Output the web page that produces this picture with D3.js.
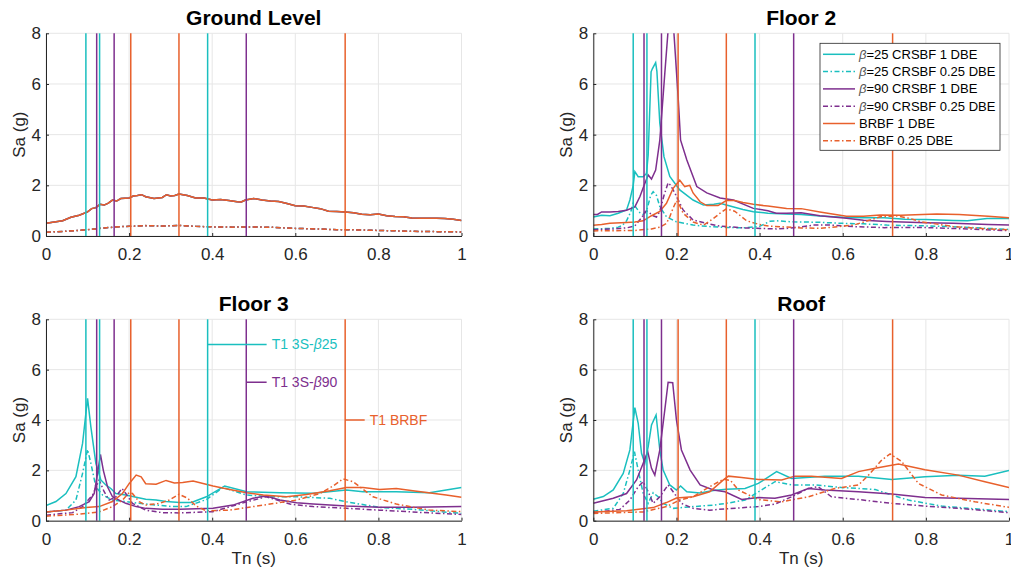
<!DOCTYPE html>
<html>
<head>
<meta charset="utf-8">
<script src="https://cdn.jsdelivr.net/npm/d3@7"></script>
<style>
  body { margin: 0; background: #fff; }
  svg { font-family: "Liberation Sans", Arial, Helvetica, sans-serif; }
  .tick text { font-size: 17px; fill: #262626; }
  .tick line, .domain { stroke: #262626; }
</style>
</head>
<body>
<div id="chart"></div>
<script>
// first-mode periods per system (vertical lines)
var b25Periods = [0.096, 0.129, 0.389];
var b90Periods = [0.122, 0.164, 0.482];
var brbfPeriods = [0.204, 0.32, 0.72];

var xTicks = [0, 0.2, 0.4, 0.6, 0.8, 1];
var yTicks = [0, 2, 4, 6, 8];

var panelTitles = ["Ground Level", "Floor 2", "Floor 3", "Roof"];
var legendLabels = ["=25 CRSBF 1 DBE", "=25 CRSBF 0.25 DBE", "=90 CRSBF 1 DBE",
    "=90 CRSBF 0.25 DBE", "BRBF 1 DBE", "BRBF 0.25 DBE"];
var annoLabels = [["T1 3S-", "\u03b2", "25"], ["T1 3S-", "\u03b2", "90"], ["T1 BRBF", "", ""]];

// ground level input (same for every system)
var groundDbe = [[0,0.5],[0.02,0.55],[0.04,0.6],[0.06,0.74],[0.08,0.82],[0.1,0.95],[0.11,1.08],[0.12,1.12],[0.13,1.25],[0.14,1.22],[0.15,1.3],[0.16,1.42],[0.17,1.38],[0.18,1.48],[0.2,1.5],[0.21,1.58],[0.22,1.6],[0.23,1.63],[0.24,1.55],[0.26,1.48],[0.28,1.52],[0.29,1.63],[0.3,1.58],[0.31,1.6],[0.32,1.66],[0.34,1.6],[0.36,1.5],[0.38,1.5],[0.4,1.42],[0.42,1.44],[0.44,1.4],[0.46,1.35],[0.47,1.34],[0.48,1.42],[0.5,1.48],[0.52,1.42],[0.54,1.38],[0.56,1.36],[0.58,1.28],[0.6,1.19],[0.62,1.18],[0.64,1.13],[0.66,1.08],[0.68,0.98],[0.7,0.97],[0.72,0.95],[0.74,0.92],[0.76,0.86],[0.78,0.84],[0.8,0.87],[0.82,0.8],[0.84,0.77],[0.86,0.76],[0.88,0.71],[0.9,0.7],[0.92,0.7],[0.94,0.7],[0.96,0.69],[0.98,0.66],[1,0.61]];
var groundQ = [[0,0.15],[0.04,0.18],[0.08,0.22],[0.1,0.25],[0.14,0.32],[0.18,0.37],[0.2,0.38],[0.24,0.41],[0.28,0.39],[0.32,0.42],[0.36,0.38],[0.4,0.36],[0.45,0.35],[0.5,0.36],[0.55,0.34],[0.6,0.3],[0.65,0.28],[0.7,0.25],[0.75,0.24],[0.8,0.22],[0.85,0.2],[0.9,0.18],[0.95,0.17],[1,0.16]];

// floor 2
var f2B25Dbe = [[0,0.75],[0.02,0.82],[0.04,0.8],[0.06,0.9],[0.08,1.03],[0.088,1.42],[0.096,2.0],[0.1,2.54],[0.108,2.34],[0.12,2.34],[0.128,2.47],[0.132,3.2],[0.139,6.48],[0.142,6.6],[0.15,6.84],[0.153,6.5],[0.16,4.45],[0.17,3.13],[0.184,2.35],[0.208,1.82],[0.24,1.42],[0.265,1.22],[0.29,1.25],[0.305,1.29],[0.32,1.22],[0.36,1.05],[0.385,0.96],[0.42,0.9],[0.465,0.87],[0.5,0.85],[0.545,0.79],[0.6,0.74],[0.65,0.72],[0.7,0.72],[0.75,0.66],[0.8,0.65],[0.866,0.61],[0.9,0.6],[0.947,0.69],[1,0.69]];
var f2B25Q = [[0,0.28],[0.04,0.3],[0.06,0.35],[0.07,0.42],[0.08,0.6],[0.09,0.95],[0.096,1.29],[0.104,1.1],[0.112,0.92],[0.12,0.84],[0.13,1.1],[0.138,1.6],[0.144,1.75],[0.152,1.6],[0.16,1.16],[0.176,0.76],[0.2,0.56],[0.24,0.43],[0.28,0.37],[0.32,0.34],[0.36,0.32],[0.4,0.38],[0.425,0.58],[0.44,0.6],[0.48,0.56],[0.545,0.54],[0.6,0.5],[0.65,0.48],[0.706,0.43],[0.8,0.4],[0.866,0.37],[0.95,0.3],[1,0.26]];
var f2B90Dbe = [[0,0.85],[0.01,0.85],[0.02,0.95],[0.04,0.95],[0.06,0.97],[0.08,1.02],[0.1,1.15],[0.112,1.55],[0.12,1.9],[0.132,2.41],[0.14,2.25],[0.15,2.6],[0.16,3.78],[0.172,6.42],[0.18,8.13],[0.186,9.2],[0.192,8.5],[0.204,5.5],[0.21,3.78],[0.225,3.0],[0.249,1.95],[0.273,1.7],[0.305,1.5],[0.337,1.42],[0.385,1.09],[0.42,1.0],[0.44,0.9],[0.465,0.9],[0.5,0.92],[0.545,0.8],[0.609,0.7],[0.65,0.62],[0.706,0.57],[0.8,0.52],[0.866,0.5],[0.95,0.45],[1,0.43]];
var f2B90Q = [[0,0.25],[0.05,0.28],[0.08,0.32],[0.1,0.4],[0.115,0.7],[0.128,1.0],[0.136,0.9],[0.144,0.8],[0.152,0.75],[0.16,0.97],[0.17,1.6],[0.18,2.1],[0.186,2.0],[0.196,1.7],[0.216,1.03],[0.24,0.63],[0.273,0.5],[0.3,0.4],[0.36,0.32],[0.44,0.28],[0.465,0.3],[0.5,0.36],[0.529,0.43],[0.569,0.43],[0.626,0.37],[0.7,0.33],[0.786,0.34],[0.9,0.28],[1,0.21]];
var f2BrbfDbe = [[0,0.42],[0.02,0.45],[0.04,0.5],[0.08,0.53],[0.1,0.55],[0.12,0.6],[0.14,0.8],[0.16,0.97],[0.176,1.29],[0.192,1.88],[0.208,2.2],[0.22,1.95],[0.232,2.0],[0.24,1.7],[0.257,1.35],[0.273,1.2],[0.3,1.2],[0.32,1.4],[0.34,1.4],[0.36,1.32],[0.385,1.25],[0.42,1.18],[0.465,1.09],[0.5,1.08],[0.545,0.95],[0.609,0.78],[0.65,0.78],[0.69,0.83],[0.74,0.82],[0.826,0.87],[0.88,0.85],[0.95,0.78],[1,0.72]];
var f2BrbfQ = [[0,0.2],[0.1,0.22],[0.14,0.28],[0.16,0.35],[0.176,0.5],[0.184,0.76],[0.192,1.1],[0.2,1.39],[0.208,1.2],[0.216,0.9],[0.24,0.55],[0.265,0.43],[0.289,0.69],[0.305,0.9],[0.32,1.07],[0.34,0.98],[0.369,0.6],[0.4,0.45],[0.425,0.39],[0.5,0.32],[0.545,0.3],[0.626,0.43],[0.66,0.6],[0.69,0.76],[0.73,0.79],[0.76,0.7],[0.786,0.57],[0.866,0.37],[0.95,0.28],[1,0.24]];

// floor 3
var f3B25Dbe = [[0,0.6],[0.024,0.76],[0.048,1.08],[0.072,1.75],[0.088,3.07],[0.1,4.86],[0.108,3.73],[0.12,2.28],[0.132,1.62],[0.144,1.42],[0.156,1.28],[0.168,1.08],[0.192,1.02],[0.217,0.93],[0.24,0.85],[0.265,0.82],[0.289,0.76],[0.322,0.72],[0.35,0.72],[0.386,0.95],[0.43,1.38],[0.483,1.15],[0.563,1.11],[0.643,1.09],[0.723,1.22],[0.763,1.15],[0.843,1.15],[0.923,1.11],[0.963,1.22],[1,1.32]];
var f3B25Q = [[0,0.35],[0.048,0.42],[0.072,0.82],[0.088,1.88],[0.1,2.83],[0.108,2.28],[0.12,1.35],[0.136,1.02],[0.16,0.82],[0.192,0.76],[0.224,0.69],[0.265,0.62],[0.305,0.56],[0.337,0.56],[0.386,0.84],[0.426,1.32],[0.483,1.02],[0.547,0.95],[0.603,0.95],[0.683,0.89],[0.723,0.75],[0.803,0.53],[0.883,0.45],[1,0.29]];
var f3B90Dbe = [[0,0.35],[0.048,0.42],[0.08,0.56],[0.104,0.76],[0.116,1.08],[0.124,1.88],[0.131,2.63],[0.138,2.0],[0.148,1.35],[0.16,0.95],[0.176,0.82],[0.192,0.69],[0.217,0.56],[0.24,0.49],[0.28,0.45],[0.322,0.45],[0.402,0.49],[0.45,0.62],[0.498,0.89],[0.53,0.98],[0.563,0.82],[0.603,0.71],[0.643,0.66],[0.723,0.58],[0.803,0.53],[0.883,0.53],[1,0.56]];
var f3B90Q = [[0,0.22],[0.064,0.32],[0.088,0.56],[0.112,1.02],[0.128,1.62],[0.14,1.15],[0.152,0.82],[0.168,0.95],[0.183,1.28],[0.192,1.08],[0.208,0.69],[0.24,0.42],[0.28,0.32],[0.322,0.31],[0.402,0.36],[0.483,0.75],[0.53,0.95],[0.587,0.66],[0.643,0.56],[0.723,0.49],[0.803,0.42],[0.9,0.33],[1,0.25]];
var f3BrbfDbe = [[0,0.35],[0.048,0.42],[0.096,0.52],[0.128,0.56],[0.16,0.76],[0.184,1.08],[0.2,1.47],[0.217,1.81],[0.229,1.74],[0.24,1.47],[0.265,1.45],[0.289,1.6],[0.309,1.5],[0.329,1.52],[0.354,1.58],[0.402,1.38],[0.442,1.24],[0.483,1.11],[0.523,1.02],[0.579,0.95],[0.627,1.04],[0.683,1.19],[0.723,1.32],[0.763,1.32],[0.803,1.24],[0.843,1.28],[0.883,1.19],[0.963,1.02],[1,0.93]];
var f3BrbfQ = [[0,0.18],[0.08,0.26],[0.128,0.35],[0.16,0.56],[0.184,0.82],[0.2,1.12],[0.208,1.08],[0.224,0.76],[0.24,0.62],[0.273,0.69],[0.297,0.82],[0.32,1.05],[0.34,0.9],[0.362,0.58],[0.386,0.39],[0.442,0.42],[0.523,0.62],[0.603,0.82],[0.659,1.08],[0.691,1.38],[0.715,1.66],[0.739,1.55],[0.787,0.95],[0.843,0.66],[0.923,0.42],[1,0.36]];

// roof
var rfB25Dbe = [[0,0.85],[0.024,0.96],[0.048,1.22],[0.072,1.88],[0.088,2.81],[0.1,4.49],[0.108,3.87],[0.116,2.68],[0.124,2.28],[0.132,2.94],[0.14,3.8],[0.151,4.2],[0.16,2.81],[0.168,2.01],[0.184,1.42],[0.2,1.22],[0.21,1.38],[0.225,1.15],[0.257,1.1],[0.289,1.2],[0.32,1.25],[0.365,1.28],[0.397,1.48],[0.441,1.95],[0.477,1.68],[0.557,1.77],[0.638,1.77],[0.718,1.64],[0.798,1.75],[0.878,1.81],[0.942,1.77],[1,1.99]];
var rfB25Q = [[0,0.38],[0.048,0.49],[0.072,1.08],[0.088,2.01],[0.099,2.74],[0.108,2.01],[0.12,1.08],[0.132,0.69],[0.144,1.11],[0.156,0.95],[0.168,0.69],[0.192,0.49],[0.24,0.56],[0.289,0.62],[0.32,0.69],[0.365,0.82],[0.437,1.55],[0.477,1.42],[0.533,1.42],[0.597,1.32],[0.678,1.24],[0.718,1.02],[0.758,0.82],[0.838,0.58],[1,0.36]];
var rfB90Dbe = [[0,0.69],[0.048,0.89],[0.08,1.08],[0.104,1.62],[0.12,2.28],[0.131,2.74],[0.14,2.08],[0.148,1.81],[0.16,2.81],[0.172,4.4],[0.18,5.5],[0.191,5.48],[0.2,4.0],[0.212,2.81],[0.233,2.01],[0.257,1.42],[0.289,1.22],[0.317,1.15],[0.357,0.84],[0.397,0.92],[0.437,0.89],[0.477,1.02],[0.517,1.28],[0.557,1.22],[0.638,1.15],[0.718,1.06],[0.798,0.92],[0.878,0.89],[1,0.84]];
var rfB90Q = [[0,0.32],[0.064,0.45],[0.088,0.82],[0.108,1.35],[0.12,1.55],[0.132,1.15],[0.144,0.69],[0.16,0.95],[0.18,1.42],[0.192,1.15],[0.212,0.69],[0.24,0.49],[0.28,0.42],[0.317,0.47],[0.397,0.56],[0.437,0.66],[0.477,0.95],[0.517,1.28],[0.541,1.35],[0.573,0.95],[0.638,0.84],[0.718,0.69],[0.798,0.58],[0.878,0.49],[1,0.32]];
var rfBrbfDbe = [[0,0.35],[0.08,0.4],[0.144,0.52],[0.176,0.72],[0.2,0.9],[0.24,0.95],[0.28,1.15],[0.313,1.62],[0.325,1.77],[0.357,1.72],[0.397,1.64],[0.453,1.62],[0.485,1.77],[0.525,1.77],[0.597,1.68],[0.638,1.95],[0.678,2.08],[0.734,2.25],[0.798,2.02],[0.878,1.81],[0.942,1.55],[1,1.32]];
var rfBrbfQ = [[0,0.29],[0.12,0.35],[0.176,0.56],[0.208,0.82],[0.24,0.95],[0.28,1.35],[0.313,1.65],[0.33,1.6],[0.349,1.22],[0.397,0.84],[0.453,0.75],[0.517,0.95],[0.581,1.28],[0.638,1.42],[0.662,1.81],[0.694,2.41],[0.714,2.65],[0.742,2.35],[0.782,1.48],[0.838,1.02],[0.918,0.75],[1,0.53]];

// styles for the six series, in legend order
var cyan = "#1abfbf", purple = "#7e2f8e", orange = "#e8602c";
var dashDot = "5,2.5,1.5,2.5";
var styles = [
    {color: cyan, dash: null, beta: true},
    {color: cyan, dash: dashDot, beta: true},
    {color: purple, dash: null, beta: true},
    {color: purple, dash: dashDot, beta: true},
    {color: orange, dash: null, beta: false},
    {color: orange, dash: dashDot, beta: false}
];

var panelData = [
    [groundDbe, groundQ, groundDbe, groundQ, groundDbe, groundQ],
    [f2B25Dbe, f2B25Q, f2B90Dbe, f2B90Q, f2BrbfDbe, f2BrbfQ],
    [f3B25Dbe, f3B25Q, f3B90Dbe, f3B90Q, f3BrbfDbe, f3BrbfQ],
    [rfB25Dbe, rfB25Q, rfB90Dbe, rfB90Q, rfBrbfDbe, rfBrbfQ]
];

// panel boxes (left, top, width, height)
var boxes = [
    {left: 46, top: 33.3, w: 415.5, h: 202.7},
    {left: 593.3, top: 33.3, w: 415.7, h: 202.7},
    {left: 46, top: 319.3, w: 415.5, h: 201.4},
    {left: 593.3, top: 319.3, w: 415.7, h: 201.4}
];

var svg = d3.select("#chart")
    .append("svg")
    .attr("width", 1011)
    .attr("height", 573);

boxes.forEach(function(box, p) {
    var g = svg.append("g")
        .attr("transform", `translate(${box.left}, ${box.top})`);

    var xScale = d3.scaleLinear().domain([0, 1]).range([0, box.w]);
    var yScale = d3.scaleLinear().domain([0, 8]).range([box.h, 0]);

    // grid
    g.selectAll(".gx").data(xTicks).enter().append("line")
        .attr("x1", d => xScale(d)).attr("x2", d => xScale(d))
        .attr("y1", 0).attr("y2", box.h)
        .attr("stroke", "#e6e6e6");
    g.selectAll(".gy").data(yTicks).enter().append("line")
        .attr("x1", 0).attr("x2", box.w)
        .attr("y1", d => yScale(d)).attr("y2", d => yScale(d))
        .attr("stroke", "#e6e6e6");

    // clip
    svg.append("clipPath").attr("id", "clip" + p)
        .append("rect").attr("width", box.w).attr("height", box.h);

    var line = d3.line()
        .x(d => xScale(d[0]))
        .y(d => yScale(d[1]));

    var curves = g.append("g").attr("clip-path", `url(#clip${p})`);
    panelData[p].forEach(function(series, i) {
        curves.append("path")
            .datum(series)
            .attr("d", line)
            .attr("fill", "none")
            .attr("stroke", styles[i].color)
            .attr("stroke-width", 1.5)
            .attr("stroke-dasharray", styles[i].dash);
    });

    // period lines
    var vlines = [[b25Periods, cyan], [b90Periods, purple], [brbfPeriods, orange]];
    vlines.forEach(function(v) {
        g.selectAll(null).data(v[0]).enter().append("line")
            .attr("x1", d => xScale(d)).attr("x2", d => xScale(d))
            .attr("y1", yScale(0)).attr("y2", yScale(8))
            .attr("stroke", v[1])
            .attr("stroke-width", 1.5);
    });

    // axes
    g.append("g")
        .attr("transform", `translate(0, ${box.h})`)
        .call(d3.axisBottom(xScale).tickValues(xTicks).tickFormat(d3.format("~g"))
            .tickSizeInner(-3).tickSizeOuter(0).tickPadding(12));
    g.append("g")
        .call(d3.axisLeft(yScale).tickValues(yTicks)
            .tickSizeInner(-3).tickSizeOuter(0).tickPadding(5));

    // titles and labels
    g.append("text")
        .attr("x", box.w / 2).attr("y", -8)
        .attr("text-anchor", "middle")
        .attr("font-size", "21px").attr("font-weight", "bold")
        .attr("fill", "#000")
        .text(panelTitles[p]);

    g.append("text")
        .attr("transform", "rotate(-90)")
        .attr("x", -box.h / 2).attr("y", -21)
        .attr("text-anchor", "middle")
        .attr("font-size", "17px").attr("fill", "#262626")
        .text("Sa (g)");

    if (p >= 2) {
        g.append("text")
            .attr("x", box.w / 2).attr("y", box.h + 43)
            .attr("text-anchor", "middle")
            .attr("font-size", "17px").attr("fill", "#262626")
            .text("Tn (s)");
    }

    // period annotations on floor 3
    if (p == 2) {
        var annos = [
            {t: b25Periods[2], t2: 0.531, sa: 7, color: cyan},
            {t: b90Periods[2], t2: 0.531, sa: 5.5, color: purple},
            {t: brbfPeriods[2], t2: 0.767, sa: 4, color: orange}
        ];
        annos.forEach(function(a, i) {
            g.append("line")
                .attr("x1", xScale(a.t)).attr("x2", xScale(a.t2))
                .attr("y1", yScale(a.sa)).attr("y2", yScale(a.sa))
                .attr("stroke", a.color).attr("stroke-width", 1.5);
            var txt = g.append("text")
                .attr("x", xScale(a.t2) + 5).attr("y", yScale(a.sa))
                .attr("dy", "0.35em")
                .attr("font-size", "14px").attr("fill", a.color);
            txt.append("tspan").text(annoLabels[i][0]);
            txt.append("tspan").attr("font-style", "italic").text(annoLabels[i][1]);
            txt.append("tspan").text(annoLabels[i][2]);
        });
    }

    // legend on floor 2
    if (p == 1) {
        var lg = svg.append("g");
        lg.append("rect")
            .attr("x", 820).attr("y", 43.3)
            .attr("width", 180).attr("height", 107)
            .attr("fill", "#fff").attr("stroke", "#262626").attr("stroke-width", 0.8);
        styles.forEach(function(s, i) {
            var y = 54.3 + i * 17.3;
            lg.append("line")
                .attr("x1", 823).attr("x2", 855)
                .attr("y1", y).attr("y2", y)
                .attr("stroke", s.color).attr("stroke-width", 1.5)
                .attr("stroke-dasharray", s.dash);
            var t = lg.append("text")
                .attr("x", 859).attr("y", y).attr("dy", "0.35em")
                .attr("font-size", "13px").attr("fill", "#000");
            if (s.beta) {
                t.append("tspan").attr("font-style", "italic").attr("fill", "#555").text("\u03b2");
            }
            t.append("tspan").text(legendLabels[i]);
        });
    }
});
</script>
</body>
</html>
